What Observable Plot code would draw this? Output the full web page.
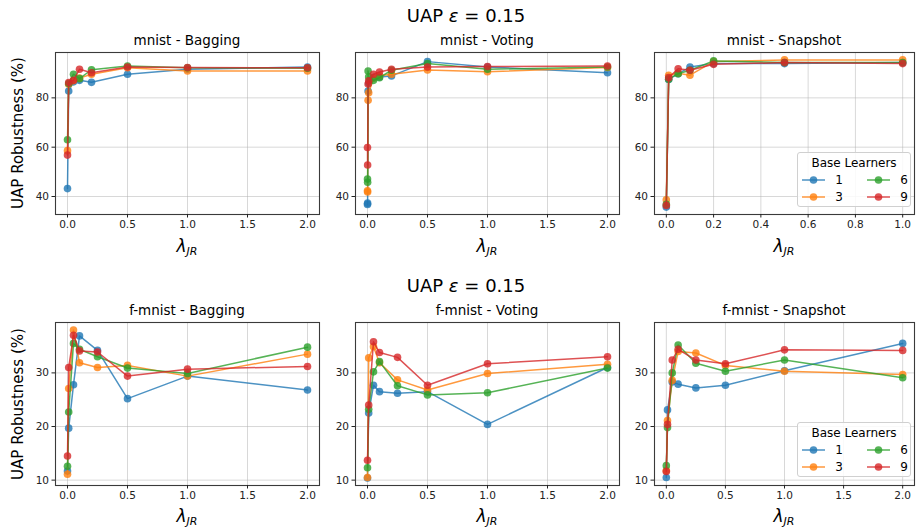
<!DOCTYPE html>
<html>
<head>
<meta charset="utf-8">
<script src="https://cdn.jsdelivr.net/npm/d3@7"></script>
<script src="https://cdn.jsdelivr.net/npm/@observablehq/plot@0.6"></script>
<style>
  html, body { margin: 0; padding: 0; background: #fff; overflow: hidden; }
  #root { position: relative; width: 916px; height: 529px; font-family: "DejaVu Sans", sans-serif; color: #000; }
  .abs { position: absolute; white-space: nowrap; }
  .c { transform: translate(-50%, -50%); }
  .legend { position: absolute; border: 1px solid #d0d0d0; border-radius: 3px; background: rgba(255,255,255,0.85); box-sizing: border-box; }
</style>
</head>
<body>
<div id="root"></div>
<script>
// ---- data ----
const learners = ["1", "3", "6", "9"];
const colors = ["#1f77b4", "#ff7f0e", "#2ca02c", "#d62728"];

const lamMnistBagging = [0, 0.01, 0.05, 0.1, 0.2, 0.5, 1, 2];
const mnistBagging = [
  [43.2, 82.8, 86.5, 87.1, 86.3, 89.6, 91.6, 92.5],
  [58.6, 85.5, 87.0, 88.0, 89.6, 92.2, 90.9, 90.9],
  [63.0, 85.8, 89.6, 87.8, 91.4, 92.9, 92.2, 92.0],
  [56.8, 86.2, 87.1, 91.6, 90.2, 92.5, 92.3, 92.2]
];

const lamMnistVoting = [0, 0.001, 0.005, 0.01, 0.05, 0.1, 0.2, 0.5, 1, 2];
const mnistVoting = [
  [36.8, 37.3, 82.8, 86.0, 88.2, 88.5, 88.9, 94.7, 92.5, 90.2],
  [42.3, 41.8, 79.0, 82.1, 88.0, 89.0, 89.6, 91.3, 90.6, 92.3],
  [47.1, 45.8, 90.9, 88.5, 87.1, 88.2, 91.2, 93.9, 91.6, 92.5],
  [59.9, 52.8, 85.6, 86.9, 89.6, 90.5, 91.6, 92.5, 92.7, 92.9]
];

const lamMnistSnapshot = [0, 0.01, 0.05, 0.1, 0.2, 0.5, 1];
const mnistSnapshot = [
  [35.7, 87.5, 89.8, 92.5, 93.9, 93.9, 94.3],
  [38.7, 89.2, 90.0, 89.2, 94.7, 95.4, 95.4],
  [36.8, 87.6, 89.8, 91.2, 95.0, 94.3, 94.3],
  [36.4, 88.2, 91.8, 91.2, 93.6, 94.3, 93.9]
];

const lamFmnist = [0, 0.01, 0.05, 0.1, 0.25, 0.5, 1, 2];
const fmnistBagging = [
  [11.7, 19.7, 27.8, 36.9, 34.2, 25.2, 29.4, 26.8],
  [11.1, 27.1, 38.0, 31.9, 31.0, 31.4, 29.4, 33.5],
  [12.6, 22.7, 35.5, 34.4, 33.0, 30.9, 29.9, 34.8],
  [14.5, 31.0, 37.0, 34.1, 33.9, 29.4, 30.7, 31.2]
];
const fmnistVoting = [
  [10.4, 22.5, 27.7, 26.5, 26.2, 26.5, 20.4, 31.0],
  [10.5, 32.8, 34.9, 31.9, 28.7, 26.8, 29.9, 31.6],
  [12.3, 23.2, 30.2, 32.1, 27.6, 25.9, 26.3, 30.9],
  [13.7, 24.0, 35.8, 33.8, 32.9, 27.7, 31.7, 33.0]
];
const fmnistSnapshot = [
  [10.5, 23.1, 28.3, 27.9, 27.2, 27.7, 30.4, 35.5],
  [11.8, 21.1, 28.6, 34.0, 33.7, 31.4, 30.3, 29.7],
  [12.7, 19.8, 30.0, 35.2, 31.8, 30.3, 32.4, 29.1],
  [11.6, 20.4, 32.4, 34.4, 32.4, 31.7, 34.3, 34.2]
];

const ticksX2 = [0, 0.5, 1, 1.5, 2];
const ticksX1 = [0, 0.2, 0.4, 0.6, 0.8, 1];
const ticksYMnist = [40, 60, 80];
const ticksYFmnist = [10, 20, 30];

// ---- layout ----
const root = document.getElementById("root");
const ML = 32, MR = 2, MT = 2, MB = 24;

function addText(html, x, y, style) {
  const d = document.createElement("div");
  d.className = "abs c";
  d.style.left = x + "px"; d.style.top = y + "px";
  Object.assign(d.style, style || {});
  d.innerHTML = html;
  root.appendChild(d);
  return d;
}

function panel(lam, series, frame, xDomain, xTicks, yDomain, yTicks) {
  const [fx0, fy0, fx1, fy1] = frame;
  const fw = fx1 - fx0, fh = fy1 - fy0;
  const marks = [
    Plot.gridX(xTicks, {stroke: "#b0b0b0", strokeOpacity: 0.55, strokeWidth: 0.9}),
    Plot.gridY(yTicks, {stroke: "#b0b0b0", strokeOpacity: 0.55, strokeWidth: 0.9})
  ];
  series.forEach((vals, i) => {
    const data = vals.map((v, j) => ({lam: lam[j], v, s: learners[i]}));
    marks.push(Plot.line(data, {x: "lam", y: "v", stroke: colors[i], strokeWidth: 1.5, strokeOpacity: 0.8}));
    marks.push(Plot.dot(data, {x: "lam", y: "v", fill: colors[i], fillOpacity: 0.8, r: 3.8, stroke: "none"}));
  });
  marks.push(Plot.frame({stroke: "#3a3a3a", strokeWidth: 1.1}));
  marks.push(Plot.axisX({ticks: xTicks, tickFormat: d3.format(".1f"), tickSize: 3.5, tickPadding: 3, label: null, stroke: "#222"}));
  marks.push(Plot.axisY({ticks: yTicks, tickFormat: d3.format("d"), tickSize: 3.5, tickPadding: 3, label: null, stroke: "#222"}));
  const svg = Plot.plot({
    width: fw + ML + MR, height: fh + MT + MB,
    marginLeft: ML, marginRight: MR, marginTop: MT, marginBottom: MB,
    x: {domain: xDomain},
    y: {domain: yDomain},
    style: {fontFamily: "DejaVu Sans", fontSize: "10.5px", color: "#222", background: "transparent", overflow: "visible"},
    marks
  });
  svg.style.position = "absolute";
  svg.style.left = (fx0 - ML) + "px";
  svg.style.top = (fy0 - MT) + "px";
  root.appendChild(svg);
}

function legend(left, top, width, height) {
  const box = document.createElement("div");
  box.className = "legend";
  box.style.left = left + "px"; box.style.top = top + "px";
  box.style.width = width + "px"; box.style.height = height + "px";
  root.appendChild(box);
  addText("Base Learners", left + width / 2, top + 11, {fontSize: "12px"});
  const cols = [left + 5, left + 70];
  const rows = [top + 28, top + 45];
  const order = [[0, 0], [0, 1], [1, 0], [1, 1]];
  learners.forEach((lab, i) => {
    const [c, r] = order[i];
    const x = cols[c], y = rows[r];
    const s = document.createElementNS("http://www.w3.org/2000/svg", "svg");
    s.setAttribute("width", 24); s.setAttribute("height", 10);
    s.style.position = "absolute"; s.style.left = x + "px"; s.style.top = (y - 5) + "px";
    s.innerHTML = `<line x1="0" y1="5" x2="23" y2="5" stroke="${colors[i]}" stroke-width="1.5" stroke-opacity="0.8"/><circle cx="11.5" cy="5" r="3.8" fill="${colors[i]}" fill-opacity="0.8"/>`;
    root.appendChild(s);
    addText(lab, x + 37, y, {fontSize: "12px"});
  });
}

// Row 1
const r1 = [52, 214];
const f11 = [55, r1[0], 319, r1[1]];
const f12 = [355, r1[0], 619, r1[1]];
const f13 = [654, r1[0], 914, r1[1]];
const yDomMnist = [32.7, 98.4];
panel(lamMnistBagging, mnistBagging, f11, [-0.1, 2.1], ticksX2, yDomMnist, ticksYMnist);
panel(lamMnistVoting, mnistVoting, f12, [-0.1, 2.1], ticksX2, yDomMnist, ticksYMnist);
panel(lamMnistSnapshot, mnistSnapshot, f13, [-0.05, 1.05], ticksX1, yDomMnist, ticksYMnist);

// Row 2
const r2 = [322, 485];
const f21 = [55, r2[0], 319, r2[1]];
const f22 = [355, r2[0], 619, r2[1]];
const f23 = [654, r2[0], 914, r2[1]];
const yDomF = [9.0, 39.4];
panel(lamFmnist, fmnistBagging, f21, [-0.1, 2.1], ticksX2, yDomF, ticksYFmnist);
panel(lamFmnist, fmnistVoting, f22, [-0.1, 2.1], ticksX2, yDomF, ticksYFmnist);
panel(lamFmnist, fmnistSnapshot, f23, [-0.1, 2.1], ticksX2, yDomF, ticksYFmnist);

// Texts
const titleStyle = {fontSize: "18px"};
addText('UAP <i>ε</i> = 0.15', 466, 15, titleStyle);
addText('UAP <i>ε</i> = 0.15', 466, 285, titleStyle);

const ptStyle = {fontSize: "13.5px"};
const titles1 = ["mnist - Bagging", "mnist - Voting", "mnist - Snapshot"];
const titles2 = ["f-mnist - Bagging", "f-mnist - Voting", "f-mnist - Snapshot"];
[f11, f12, f13].forEach((f, i) => addText(titles1[i], (f[0] + f[2]) / 2, 40, ptStyle));
[f21, f22, f23].forEach((f, i) => addText(titles2[i], (f[0] + f[2]) / 2, 310, ptStyle));

const xl = '<i>λ</i><sub style="font-size:11px;vertical-align:-3px;font-style:italic">JR</sub>';
[f11, f12, f13].forEach(f => addText(xl, (f[0] + f[2]) / 2, 247, {fontSize: "17px"}));
[f21, f22, f23].forEach(f => addText(xl, (f[0] + f[2]) / 2, 517, {fontSize: "17px"}));

addText("UAP Robustness (%)", 18, 133, {fontSize: "15px", transform: "translate(-50%,-50%) rotate(-90deg)"});
addText("UAP Robustness (%)", 18, 404, {fontSize: "15px", transform: "translate(-50%,-50%) rotate(-90deg)"});

legend(797, 152, 114, 55);
legend(797, 422, 114, 55);
</script>
</body>
</html>
